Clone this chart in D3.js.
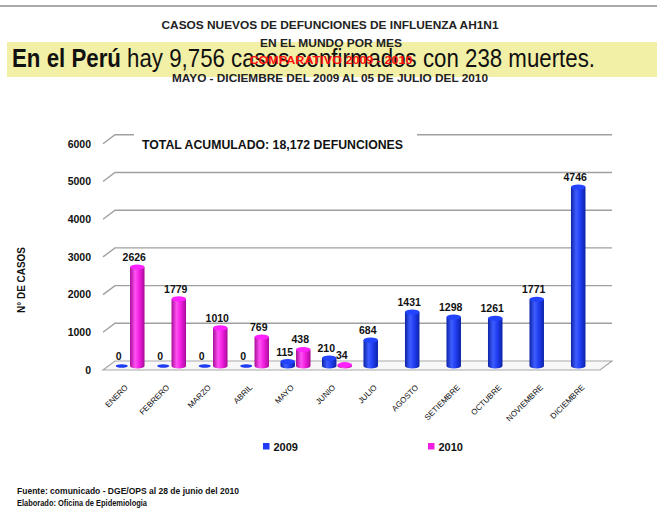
<!DOCTYPE html>
<html>
<head>
<meta charset="utf-8">
<script src="https://d3js.org/d3.v7.min.js"></script>
<style>
  body { margin: 0; background: #fff; }
  svg { display: block; }
  text { font-family: "Liberation Sans", Arial, sans-serif; }
</style>
</head>
<body>
<div class="diagram"></div>
<script>
// datos
var months = ["ENERO", "FEBRERO", "MARZO", "ABRIL", "MAYO", "JUNIO", "JULIO",
              "AGOSTO", "SETIEMBRE", "OCTUBRE", "NOVIEMBRE", "DICIEMBRE"];
var series = ["2009", "2010"];
var v2009 = [0, 0, 0, 0, 115, 210, 684, 1431, 1298, 1261, 1771, 4746];
var v2010 = [2626, 1779, 1010, 769, 438, 34, null, null, null, null, null, null];
var yTicks = [0, 1000, 2000, 3000, 4000, 5000, 6000];

var titles = ["CASOS NUEVOS DE DEFUNCIONES DE INFLUENZA  AH1N1",
              "EN EL MUNDO POR MES",
              "MAYO - DICIEMBRE DEL 2009 AL 05 DE JULIO DEL 2010"];
var subtitle = "COMPARATIVO 2009 - 2010";
var total = "TOTAL  ACUMULADO: 18,172 DEFUNCIONES";
var notes = ["Fuente: comunicado - DGE/OPS  al 28 de junio del 2010",
             "Elaborado: Oficina de Epidemiologia"];

var w = 657, h = 525;
var colors = { "2009": "#1f3cf4", "2010": "#f41ee2" };

var svg = d3.select("div.diagram").append("svg")
    .attr("width", w).attr("height", h);

// degradados para los cilindros
var defs = svg.append("defs");
function grad(id, dark, light, mid) {
    var g = defs.append("linearGradient").attr("id", id)
        .attr("x1", "0%").attr("x2", "100%").attr("y1", "0%").attr("y2", "0%");
    g.append("stop").attr("offset", "0%").attr("stop-color", dark);
    g.append("stop").attr("offset", "35%").attr("stop-color", light);
    g.append("stop").attr("offset", "65%").attr("stop-color", mid);
    g.append("stop").attr("offset", "100%").attr("stop-color", dark);
}
grad("g2009", "#0c22a6", "#3d5dff", "#1f3cf0");
grad("g2010", "#a80c98", "#ff52f4", "#f01cdf");

// ajustar ancho de un texto
function fit(sel, len) {
    sel.attr("textLength", len).attr("lengthAdjust", "spacingAndGlyphs");
    return sel;
}

// linea superior
svg.append("line").attr("x1", 0).attr("x2", w).attr("y1", 6).attr("y2", 6)
    .attr("stroke", "#aaa").attr("stroke-width", 2);

// banda amarilla
svg.append("rect").attr("x", 7).attr("y", 42).attr("width", 650).attr("height", 35)
    .attr("fill", "#f2f0a6");

// titulos
fit(svg.append("text").attr("x", 330).attr("y", 29).attr("text-anchor", "middle")
    .attr("font-size", "11px").attr("font-weight", "bold").attr("fill", "#222")
    .text(titles[0]), 337);
fit(svg.append("text").attr("x", 331).attr("y", 47).attr("text-anchor", "middle")
    .attr("font-size", "11px").attr("font-weight", "bold").attr("fill", "#222")
    .text(titles[1]), 142);

var big = svg.append("text").attr("x", 12).attr("y", 67)
    .attr("font-size", "26px").attr("fill", "#111");
big.append("tspan").attr("font-weight", "bold").text("En el Perú");
big.append("tspan").text(" hay 9,756  casos confirmados con 238  muertes.");
fit(big, 583);

fit(svg.append("text").attr("x", 331).attr("y", 64).attr("text-anchor", "middle")
    .attr("font-size", "11px").attr("font-weight", "bold").attr("fill", "#ff1010")
    .text(subtitle), 163);
fit(svg.append("text").attr("x", 330).attr("y", 82).attr("text-anchor", "middle")
    .attr("font-size", "11px").attr("font-weight", "bold").attr("fill", "#222")
    .text(titles[2]), 316);

// escalas
var x = d3.scaleBand().domain(months).range([108.75, 606.75]);
var xSub = d3.scaleBand().domain(series).range([5.2, 36.3]);
var y = d3.scaleLinear().domain([0, 6000]).range([366, 139.8]);
var dx = 12, dFront = 4, dBack = -5;

// piso
svg.append("path")
    .attr("d", "M103," + (y(0) + dFront) + "L" + 600 + "," + (y(0) + dFront) +
        "L612," + (y(0) + dBack) + "L" + (103 + dx) + "," + (y(0) + dBack) + "Z")
    .attr("fill", "#f8f8f8").attr("stroke", "#a8a8a8").attr("stroke-width", 1.2);

// lineas de la grilla (3D)
var grid = svg.append("g").attr("stroke", "#a0a0a0").attr("stroke-width", 1.4).attr("fill", "none");
grid.selectAll("path.g").data(yTicks.slice(1)).enter().append("path")
    .attr("d", function(d) {
        return "M103," + (y(d) + dFront) + "L" + (103 + dx) + "," + (y(d) + dBack) + "L612," + (y(d) + dBack);
    });

// texto total (tapa la grilla)
svg.append("rect").attr("x", 134).attr("y", y(6000) + dBack - 4)
    .attr("width", 283).attr("height", 8).attr("fill", "#fff");
fit(svg.append("text").attr("x", 142).attr("y", 149)
    .attr("font-size", "12px").attr("font-weight", "bold").attr("fill", "#111")
    .text(total), 261);

// eje y
var yAxis = d3.axisLeft(y).tickValues(yTicks).tickSize(0).tickPadding(0).tickFormat(d3.format("d"));
var gy = svg.append("g").attr("transform", "translate(91," + dFront + ")").call(yAxis);
gy.select(".domain").remove();
gy.selectAll("text").attr("font-size", "10.5px").attr("font-weight", "bold")
    .attr("fill", "#111").attr("font-family", "Liberation Sans, Arial, sans-serif");

fit(svg.append("text").attr("transform", "translate(25,280) rotate(-90)")
    .attr("text-anchor", "middle").attr("font-size", "10px").attr("font-weight", "bold")
    .attr("fill", "#111").text("N° DE CASOS"), 66);

// eje x
var xAxis = d3.axisBottom(x).tickSize(0);
var gx = svg.append("g").attr("transform", "translate(0,382)").call(xAxis);
gx.select(".domain").remove();
gx.selectAll("text").attr("x", 0).attr("y", 0).attr("dy", 0)
    .attr("text-anchor", "end").attr("transform", "translate(-1,6) rotate(-45)")
    .attr("font-size", "8px").attr("fill", "#111")
    .attr("font-family", "Liberation Sans, Arial, sans-serif");

// cilindros
var rows = [];
months.forEach(function(m, i) {
    [["2009", v2009[i]], ["2010", v2010[i]]].forEach(function(p) {
        if (p[1] !== null) rows.push({ m: m, s: p[0], v: p[1] });
    });
});
var bw = 14.5, ry = 2.6;
function cx(d) { return x(d.m) + xSub(d.s) + xSub.bandwidth() / 2; }

var bars = svg.append("g").selectAll("g").data(rows).enter().append("g");
bars.filter(function(d) { return d.v > 0; }).append("path")
    .attr("d", function(d) {
        var x0 = cx(d) - bw / 2, x1 = cx(d) + bw / 2, yt = y(d.v), yb = y(0);
        return "M" + x0 + "," + yt + "L" + x0 + "," + yb +
            "A" + (bw / 2) + "," + ry + " 0 0 0 " + x1 + "," + yb +
            "L" + x1 + "," + yt + "Z";
    })
    .attr("fill", function(d) { return "url(#g" + d.s + ")"; });
bars.append("ellipse")
    .attr("cx", cx)
    .attr("cy", function(d) { return y(d.v); })
    .attr("rx", function(d) { return d.v > 0 ? bw / 2 : 6; })
    .attr("ry", function(d) { return d.v > 0 ? ry : 1.8; })
    .attr("fill", function(d) { return d.v > 0 ? d3.color(colors[d.s]).brighter(0.35) : colors[d.s]; });

// etiquetas de valores
bars.append("text")
    .attr("x", function(d) { return cx(d) - 3; })
    .attr("y", function(d) { return y(d.v) - 6; })
    .attr("text-anchor", "middle")
    .attr("font-size", "10.5px").attr("font-weight", "bold").attr("fill", "#111")
    .text(function(d) { return d.v; });

// leyenda
var legX = [263, 428];
var leg = svg.append("g").selectAll("g").data(series).enter().append("g")
    .attr("transform", function(d, i) { return "translate(" + legX[i] + ",443)"; });
leg.append("rect").attr("width", 6.5).attr("height", 6.5)
    .attr("fill", function(d) { return colors[d]; });
leg.append("text").attr("x", 10.5).attr("y", 7.5)
    .attr("font-size", "11px").attr("font-weight", "bold").attr("fill", "#111")
    .text(function(d) { return d; });

// fuente
fit(svg.append("text").attr("x", 17).attr("y", 494)
    .attr("font-size", "8.5px").attr("font-weight", "bold").attr("fill", "#111")
    .text(notes[0]), 222);
fit(svg.append("text").attr("x", 17).attr("y", 506)
    .attr("font-size", "8.5px").attr("font-weight", "bold").attr("fill", "#111")
    .text(notes[1]), 130);
</script>
</body>
</html>
